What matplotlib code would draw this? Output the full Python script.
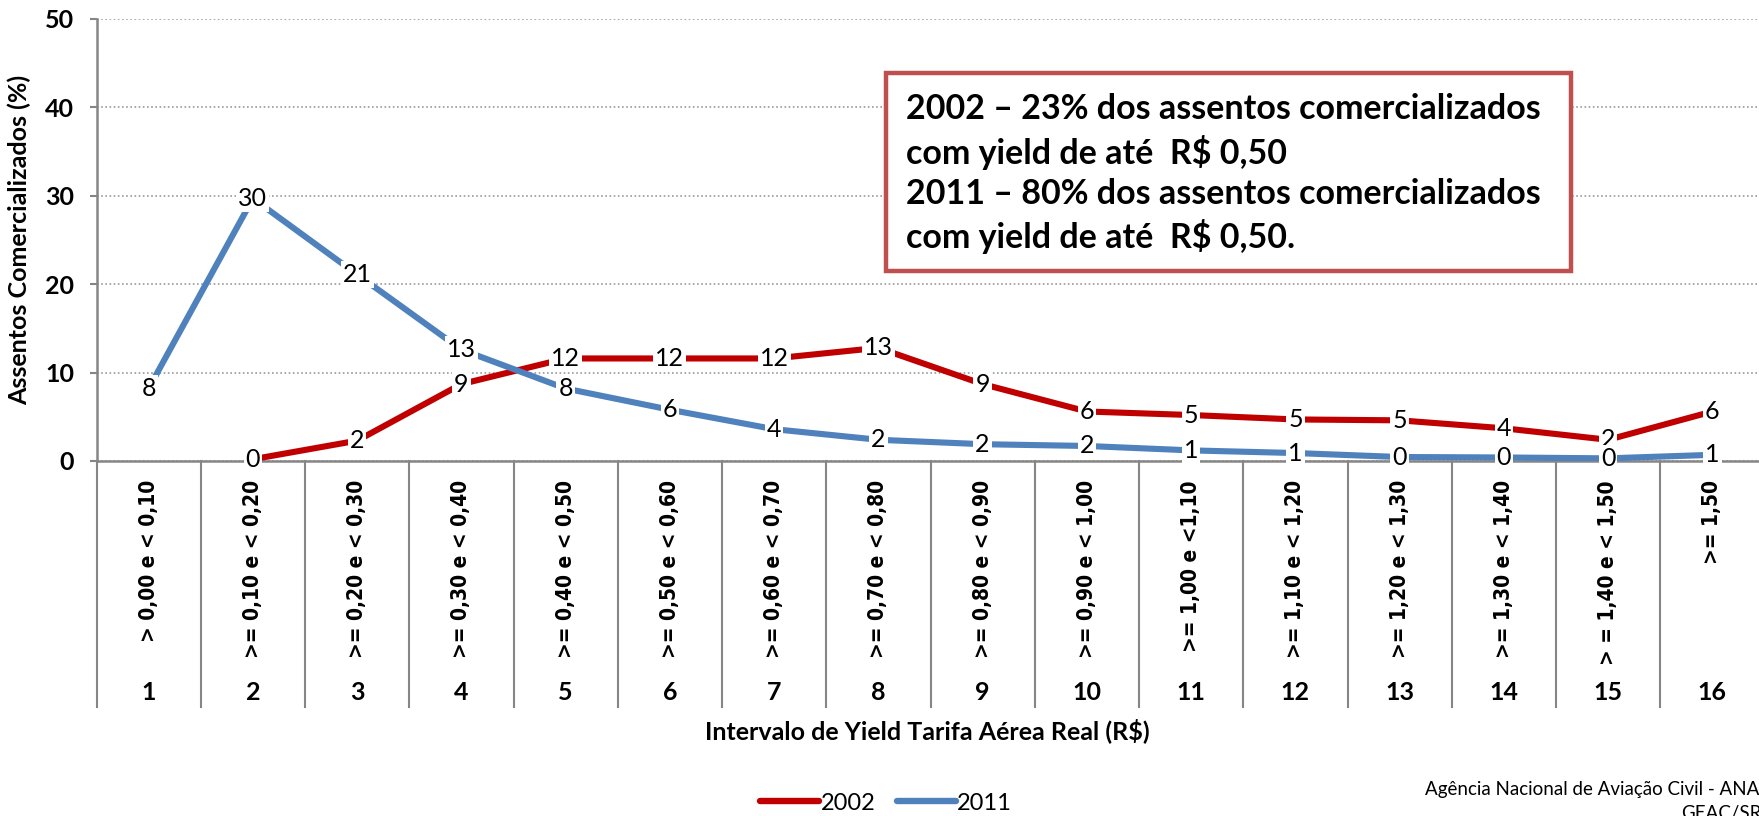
import numpy as np
import matplotlib
matplotlib.use("Agg")
import matplotlib.pyplot as plt
import matplotlib.transforms as mtransforms
from matplotlib.patches import Rectangle
from matplotlib.lines import Line2D

# ---- data -------------------------------------------------------------
categories = list(range(1, 17))
interval_labels = [
    "> 0,00 e < 0,10", ">= 0,10 e < 0,20", ">= 0,20 e < 0,30", ">= 0,30 e < 0,40",
    ">= 0,40 e < 0,50", ">= 0,50 e < 0,60", ">= 0,60 e < 0,70", ">= 0,70 e < 0,80",
    ">= 0,80 e < 0,90", ">= 0,90 e < 1,00", ">= 1,00 e <1,10", ">= 1,10 e < 1,20",
    ">= 1,20 e < 1,30", ">= 1,30 e < 1,40", "> = 1,40 e < 1,50", ">= 1,50",
]
share_2002 = [np.nan, 0.2, 2.3, 8.7, 11.6, 11.6, 11.6, 12.8, 8.7, 5.6, 5.2, 4.7, 4.6, 3.7, 2.4, 5.6]
share_2011 = [8.2, 29.7, 21.1, 12.6, 8.2, 5.8, 3.6, 2.4, 1.9, 1.7, 1.2, 0.9, 0.45, 0.4, 0.3, 0.7]
y_ticks = [0, 10, 20, 30, 40, 50]
series_names = ["2002", "2011"]

note_lines = [
    "2002 – 23% dos assentos comercializados",
    "com yield de até  R$ 0,50",
    "2011 – 80% dos assentos comercializados",
    "com yield de até  R$ 0,50.",
]

# ---- style ------------------------------------------------------------
plt.rcParams['font.family'] = ['Lato', 'DejaVu Sans']
RED = "#C00000"
BLUE = "#4F81BD"
AXIS_GRAY = "#868686"
GRID_GRAY = "#9A9A9A"

W, H = 1759, 816
fig = plt.figure(figsize=(W / 100, H / 100), dpi=100)


def fx(px):
    return px / W


def fy(py):
    return 1 - py / H


ax = fig.add_axes([fx(96.5), fy(461), fx(1764.5) - fx(96.5), fy(19) - fy(461)])

ax.set_xlim(0.5, 16.5)
ax.set_ylim(0, 50)

for s in ("top", "right"):
    ax.spines[s].set_visible(False)
for s in ("left", "bottom"):
    ax.spines[s].set_color(AXIS_GRAY)
    ax.spines[s].set_linewidth(1.8)

ax.set_yticks(y_ticks)
ax.set_yticklabels([str(t) for t in y_ticks], fontweight="bold", fontsize=18)
ax.tick_params(axis="y", direction="out", length=5, width=1.5, color=AXIS_GRAY, pad=11)
ax.set_xticks([])
ax.yaxis.grid(True, linestyle=(0, (1, 1.5)), color=GRID_GRAY, linewidth=1.2)
ax.set_axisbelow(True)

# series
ax.plot(categories, share_2002, color=RED, lw=4.4, zorder=3, solid_capstyle="butt")
ax.plot(categories, share_2011, color=BLUE, lw=4.4, zorder=3, solid_capstyle="butt")

for values, z in ((share_2002, 6), (share_2011, 7)):
    for x, v in zip(categories, values):
        if np.isnan(v):
            continue
        ax.text(x, v, f"{v:.0f}", ha="center", va="center", fontsize=18,
                zorder=z, clip_on=False,
                bbox=dict(boxstyle="square,pad=0.08", fc="white", ec="none"))

# multi-level category axis
trans = mtransforms.blended_transform_factory(ax.transData, ax.transAxes)
for b in np.arange(0.5, 17.0, 1.0):
    ax.plot([b, b], [0, -0.557], transform=trans, color=AXIS_GRAY, lw=1.5,
            clip_on=False, zorder=2)
for x, lab in zip(categories, interval_labels):
    ax.text(x, -0.043, lab, rotation=90, ha="center", va="top", transform=trans,
            fontfamily="DejaVu Sans", fontstretch="condensed", fontweight="bold",
            fontsize=15)
    ax.text(x, -0.523, str(x), ha="center", va="center", transform=trans,
            fontweight="bold", fontsize=18)

fig.text(fx(927), fy(731), "Intervalo de Yield Tarifa Aérea Real (R$)",
         ha="center", va="center", fontweight="bold", fontsize=18)
fig.text(fx(19), fy(240), "Assentos Comercializados (%)", rotation=90,
         ha="center", va="center", fontweight="bold", fontsize=18)

# legend
handles = [Line2D([], [], color=RED, lw=4.6, solid_capstyle="round"),
           Line2D([], [], color=BLUE, lw=4.6, solid_capstyle="round")]
fig.legend(handles, series_names, loc="center", bbox_to_anchor=(fx(886), fy(803)),
           ncol=2, frameon=False, fontsize=17, handlelength=2.5,
           handletextpad=0.05, columnspacing=0.9, borderaxespad=0)

# highlighted note box
box = Rectangle((fx(886), fy(271)), fx(1571) - fx(886), fy(73) - fy(271),
                transform=fig.transFigure, fc="white", ec="#C0504D", lw=3.2, zorder=10)
fig.add_artist(box)
for yy, line in zip([109, 152, 194, 236], note_lines):
    fig.text(fx(906), fy(yy), line, ha="left", va="center", fontsize=24.5,
             fontweight="bold", zorder=11)

# source
fig.text(fx(1772), fy(789), "Agência Nacional de Aviação Civil - ANAC",
         ha="right", va="center", fontsize=13.5)
fig.text(fx(1772), fy(814), "GEAC/SRE", ha="right", va="center", fontsize=13.5)

fig.savefig("out.png", dpi=100)
